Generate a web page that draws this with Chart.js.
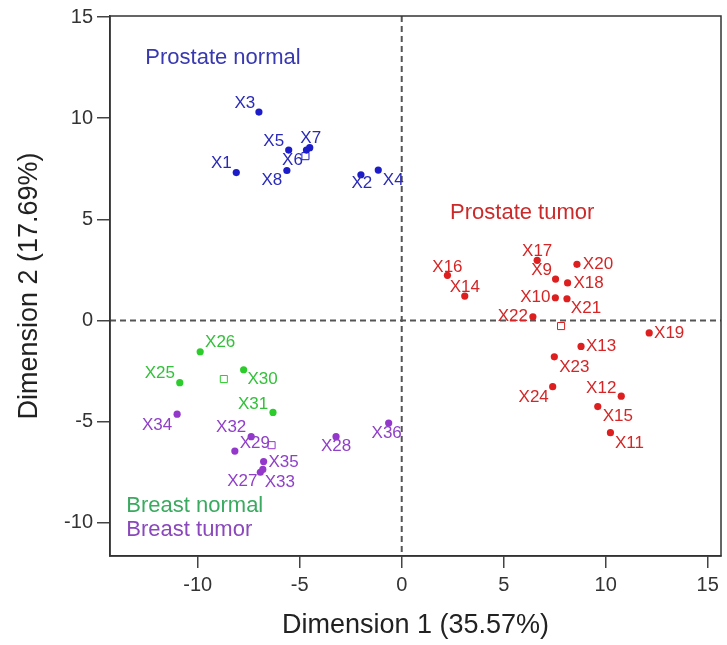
<!DOCTYPE html>
<html>
<head>
<meta charset="utf-8">
<script src="https://cdn.jsdelivr.net/npm/chart.js@4.4.0/dist/chart.umd.min.js"></script>
<style>
  html, body { margin: 0; padding: 0; background: #fff; }
</style>
</head>
<body>
<canvas id="chart" width="727" height="645"></canvas>
<script>
// MDS coordinates of the 36 samples

// Prostate normal
const prostateNormalNames = ['X1', 'X2', 'X3', 'X4', 'X5', 'X6', 'X7', 'X8'];
const prostateNormalX = [-8.11, -2.00, -7.00, -1.15, -5.54, -4.67, -4.51, -5.63];
const prostateNormalY = [7.31, 7.20, 10.30, 7.43, 8.42, 8.42, 8.54, 7.41];

// Prostate tumor
const prostateTumorNames = ['X9', 'X10', 'X11', 'X12', 'X13', 'X14', 'X15', 'X16',
  'X17', 'X18', 'X19', 'X20', 'X21', 'X22', 'X23', 'X24'];
const prostateTumorX = [7.54, 7.53, 10.23, 10.76, 8.79, 3.09, 9.61, 2.24,
  6.64, 8.13, 12.13, 8.59, 8.10, 6.43, 7.48, 7.40];
const prostateTumorY = [2.04, 1.12, -5.55, -3.75, -1.29, 1.20, -4.26, 2.23,
  2.97, 1.85, -0.62, 2.77, 1.07, 0.18, -1.80, -3.28];

// Breast normal
const breastNormalNames = ['X25', 'X26', 'X30', 'X31'];
const breastNormalX = [-10.88, -9.88, -7.75, -6.31];
const breastNormalY = [-3.08, -1.55, -2.44, -4.55];

// Breast tumor
const breastTumorNames = ['X27', 'X28', 'X29', 'X32', 'X33', 'X34', 'X35', 'X36'];
const breastTumorX = [-6.93, -3.22, -8.18, -7.38, -6.81, -11.01, -6.77, -0.64];
const breastTumorY = [-7.51, -5.75, -6.46, -5.75, -7.37, -4.64, -6.98, -5.08];

// group centroids (open squares), same order as groupNames
const groupNames = ['Prostate normal', 'Prostate tumor', 'Breast normal', 'Breast tumor'];
const centroidX = [-4.72, 7.81, -8.72, -6.38];
const centroidY = [8.12, -0.28, -2.90, -6.17];

const xTicks = [-10, -5, 0, 5, 10, 15];
const yTicks = [-10, -5, 0, 5, 10, 15];

// colours
const pointColors = ['#1c1cc8', '#dd1f1f', '#2ccc2c', '#9438cc'];
const textColors = ['#2a2ab8', '#d42626', '#33c03a', '#9040c8'];
const groupTextColors = ['#3838b0', '#cc2a2a', '#3aaa60', '#8a48bc'];

// label nudges in pixels (dx, dy from the dot to the label centre)
const labelNudge = {
  X1: [-15, -9], X2: [1, 9], X3: [-14, -9], X4: [15, 10], X5: [-15, -9], X6: [-14, 10],
  X7: [1, -9], X8: [-15, 10], X9: [-14, -9], X10: [-20, 0], X11: [19, 11], X12: [-20, -8],
  X13: [20, 0], X14: [0, -9], X15: [20, 10], X16: [0, -8], X17: [0, -9], X18: [21, 0],
  X19: [20, 0], X20: [21, 0], X21: [19, 10], X22: [-20, 0], X23: [20, 11], X24: [-19, 11],
  X25: [-20, -9], X26: [20, -9], X27: [-18, 9], X28: [0, 10], X29: [20, -8], X30: [19, 10],
  X31: [-20, -8], X32: [-20, -9], X33: [17, 13], X34: [-20, 11], X35: [20, 1], X36: [-2, 10]
};

// where the group names sit (left edge, middle), in data units
const groupTextAt = [[-12.57, 12.96], [2.37, 5.33], [-13.5, -9.18], [-13.5, -10.36]];

function toPoints(xs, ys) {
  return xs.map((v, i) => ({ x: v, y: ys[i] }));
}

const groups = [
  [prostateNormalNames, prostateNormalX, prostateNormalY],
  [prostateTumorNames, prostateTumorX, prostateTumorY],
  [breastNormalNames, breastNormalX, breastNormalY],
  [breastTumorNames, breastTumorX, breastTumorY]
];

const datasets = [];
groups.forEach((g, i) => {
  datasets.push({
    label: groupNames[i],
    names: g[0],
    textColor: textColors[i],
    data: toPoints(g[1], g[2]),
    backgroundColor: pointColors[i],
    borderColor: pointColors[i],
    borderWidth: 0,
    pointRadius: 3.6
  });
});
groups.forEach((g, i) => {
  datasets.push({
    label: groupNames[i] + ' centroid',
    data: [{ x: centroidX[i], y: centroidY[i] }],
    pointStyle: 'rect',
    backgroundColor: 'rgba(255,255,255,0)',
    borderColor: pointColors[i],
    borderWidth: 1,
    pointRadius: 5
  });
});

// dashed zero lines, sample labels, group names, box
const annotate = {
  id: 'annotate',
  beforeDatasetsDraw(chart) {
    const { ctx, chartArea: a, scales: { x, y } } = chart;
    const x0 = x.getPixelForValue(0);
    const y0 = y.getPixelForValue(0);
    ctx.save();
    ctx.strokeStyle = '#555';
    ctx.lineWidth = 2;
    ctx.setLineDash([6, 4]);
    ctx.beginPath();
    ctx.moveTo(x0, a.top); ctx.lineTo(x0, a.bottom);
    ctx.moveTo(a.left, y0); ctx.lineTo(a.right, y0);
    ctx.stroke();
    ctx.restore();
  },
  afterDatasetsDraw(chart) {
    const { ctx, chartArea: a, scales: { x, y } } = chart;
    ctx.save();
    ctx.font = '17px "Liberation Sans", Arial, sans-serif';
    ctx.textAlign = 'center';
    ctx.textBaseline = 'middle';
    chart.data.datasets.forEach((ds, i) => {
      if (!ds.names) return;
      ctx.fillStyle = ds.textColor;
      chart.getDatasetMeta(i).data.forEach((pt, j) => {
        const off = labelNudge[ds.names[j]] || [0, -10];
        ctx.fillText(ds.names[j], pt.x + off[0], pt.y + off[1]);
      });
    });

    ctx.font = '22px "Liberation Sans", Arial, sans-serif';
    ctx.textAlign = 'left';
    groupNames.forEach((name, i) => {
      ctx.fillStyle = groupTextColors[i];
      ctx.fillText(name, x.getPixelForValue(groupTextAt[i][0]), y.getPixelForValue(groupTextAt[i][1]));
    });

    ctx.strokeStyle = '#333';
    ctx.lineWidth = 1.5;
    ctx.strokeRect(a.left, a.top, a.right - a.left, a.bottom - a.top);
    ctx.restore();
  }
};

const chartCanvas = document.getElementById('chart').getContext('2d');

const chart = new Chart(chartCanvas, {
  type: 'scatter',
  data: { datasets: datasets },
  options: {
    responsive: false,
    animation: false,
    layout: { padding: { top: 13, right: 6, left: 0, bottom: 0 } },
    plugins: {
      legend: { display: false },
      tooltip: { enabled: false }
    },
    scales: {
      x: {
        type: 'linear',
        min: -14.3,
        max: 15.65,
        afterBuildTicks: (scale) => { scale.ticks = xTicks.map(v => ({ value: v })); },
        afterFit: (scale) => { scale.height = 89; },
        grid: { drawOnChartArea: false, drawTicks: true, tickLength: 12, color: '#444', lineWidth: 1.5 },
        border: { display: true, color: '#333', width: 1.5 },
        ticks: {
          color: '#333',
          padding: 5,
          maxRotation: 0,
          font: { family: '"Liberation Sans", Arial, sans-serif', size: 20 }
        },
        title: {
          display: true,
          text: 'Dimension 1 (35.57%)',
          color: '#222',
          padding: { top: 0, bottom: 3 },
          font: { family: '"Liberation Sans", Arial, sans-serif', size: 27 }
        }
      },
      y: {
        type: 'linear',
        min: -11.65,
        max: 15.05,
        afterBuildTicks: (scale) => { scale.ticks = yTicks.map(v => ({ value: v })); },
        afterFit: (scale) => { scale.width = 110; },
        grid: { drawOnChartArea: false, drawTicks: true, tickLength: 13, color: '#444', lineWidth: 1.5 },
        border: { display: true, color: '#333', width: 1.5 },
        ticks: {
          color: '#333',
          padding: 4,
          font: { family: '"Liberation Sans", Arial, sans-serif', size: 20 }
        },
        title: {
          display: true,
          text: 'Dimension 2 (17.69%)',
          color: '#222',
          padding: { top: 13, bottom: 0 },
          font: { family: '"Liberation Sans", Arial, sans-serif', size: 27 }
        }
      }
    }
  },
  plugins: [annotate]
});
</script>
</body>
</html>
